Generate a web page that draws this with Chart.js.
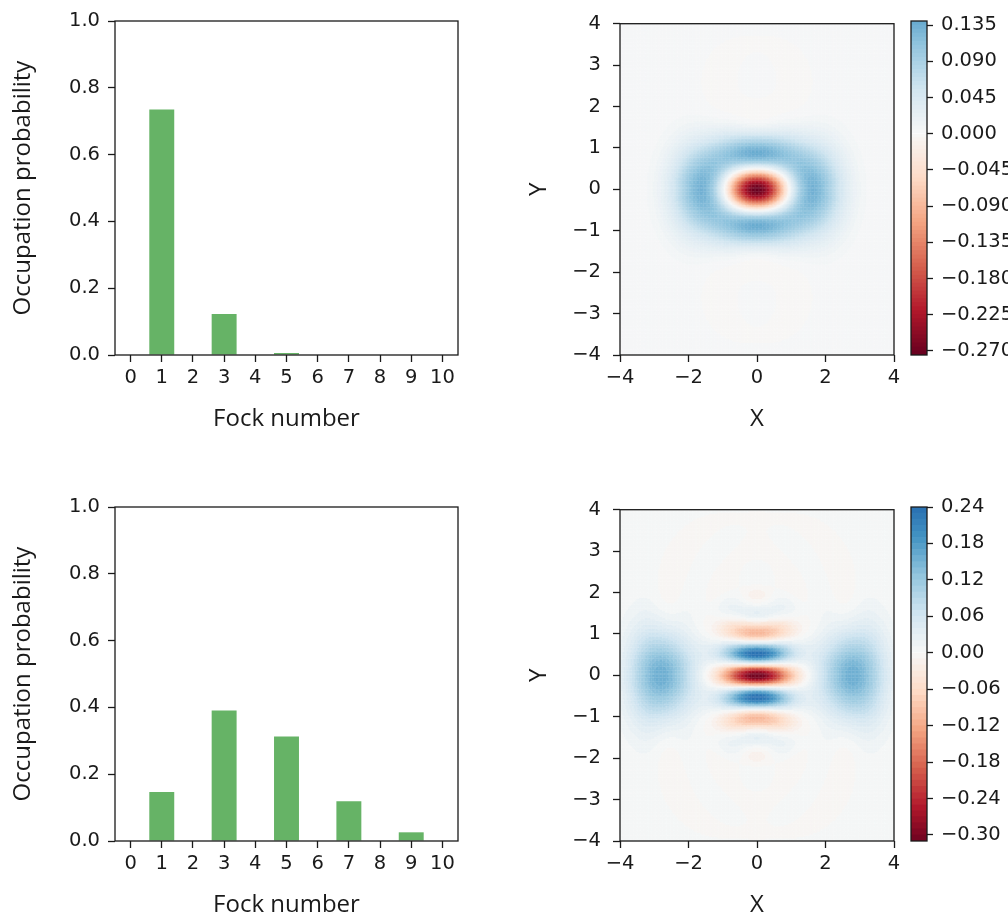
<!DOCTYPE html>
<html>
<head>
<meta charset="utf-8">
<script src="https://cdn.jsdelivr.net/npm/chart.js@4.4.1/dist/chart.umd.min.js"></script>
<style>
  html, body { margin: 0; padding: 0; background: #fff; overflow: hidden; width: 1008px; height: 918px; }
  canvas { position: absolute; }
</style>
</head>
<body>
<canvas id="barTop" width="480" height="440" style="left:0;top:0"></canvas>
<canvas id="wignerTop" width="410" height="440" style="left:500px;top:0"></canvas>
<canvas id="cbarTop" width="103" height="440" style="left:905px;top:0"></canvas>
<canvas id="barBottom" width="480" height="440" style="left:0;top:486px"></canvas>
<canvas id="wignerBottom" width="410" height="440" style="left:500px;top:486px"></canvas>
<canvas id="cbarBottom" width="103" height="440" style="left:905px;top:486px"></canvas>
<script>
// ---- data -------------------------------------------------------------
const fockLabels = ['0', '1', '2', '3', '4', '5', '6', '7', '8', '9', '10'];
const occupationTop = [0, 0.735, 0, 0.123, 0, 0.006, 0, 0, 0, 0, 0];
const occupationBottom = [0, 0.147, 0, 0.391, 0, 0.313, 0, 0.119, 0, 0.026, 0];
const probabilityTicks = [0, 0.2, 0.4, 0.6, 0.8, 1.0];
const phaseTicksX = [-4, -2, 0, 2, 4];
const phaseTicksY = [-4, -3, -2, -1, 0, 1, 2, 3, 4];
const colorbarTicksTop = [0.135, 0.09, 0.045, 0, -0.045, -0.09, -0.135, -0.18, -0.225, -0.27];
const colorbarTicksBottom = [0.24, 0.18, 0.12, 0.06, 0, -0.06, -0.12, -0.18, -0.24, -0.30];
const contourRangeTop = [-0.275, 0.14];
const contourStepTop = 0.005;
const contourRangeBottom = [-0.31, 0.24];
const contourStepBottom = 0.01;

// ---- styling ----------------------------------------------------------
const ink = '#1a1a1a';
const barGreen = '#66b366';
const tickFont = { family: 'DejaVu Sans', size: 19.5 };
const titleFont = { family: 'Open Sans', size: 24, lineHeight: 1 };
const gridCols = 200, gridRows = 245;
Chart.defaults.font.family = 'DejaVu Sans';

// matplotlib RdBu colour stops
const rdbuStops = [
  [103, 0, 31], [178, 24, 43], [214, 96, 77], [244, 165, 130], [253, 219, 199],
  [247, 247, 247], [209, 229, 240], [146, 197, 222], [67, 147, 195], [33, 102, 172], [5, 48, 97]
];
function rdbu(t) {
  t = Math.min(1, Math.max(0, t));
  const f = t * (rdbuStops.length - 1);
  const i = Math.min(rdbuStops.length - 2, Math.floor(f));
  const u = f - i, a = rdbuStops[i], b = rdbuStops[i + 1];
  const c = a.map((v, k) => Math.round(v + (b[k] - v) * u));
  return `rgb(${c[0]},${c[1]},${c[2]})`;
}

function minusFmt(v, d) {
  const s = Math.abs(v).toFixed(d);
  return v < -1e-12 ? '\u2212' + s : s;
}

// ---- Wigner function of a pure state with real Fock amplitudes ----------
function laguerre(n, a, x) {
  if (n === 0) return 1;
  let l0 = 1, l1 = 1 + a - x;
  for (let k = 1; k < n; k++) {
    const l2 = ((2 * k + 1 + a - x) * l1 - (k + a) * l0) / (k + 1);
    l0 = l1; l1 = l2;
  }
  return l1;
}
const factorial = [1];
for (let i = 1; i < 20; i++) factorial[i] = factorial[i - 1] * i;

function wignerAt(amps, x, p) {
  const r2 = x * x + p * p;
  const rho = Math.sqrt(2 * r2), theta = Math.atan2(p, x);
  let sum = 0;
  for (let m = 0; m < amps.length; m++) {
    if (!amps[m]) continue;
    for (let n = m; n < amps.length; n++) {
      if (!amps[n]) continue;
      const k = n - m;
      const re = Math.pow(rho, k) * Math.cos(k * theta);
      const term = amps[m] * amps[n] * (m % 2 ? -1 : 1) * re *
        Math.sqrt(factorial[m] / factorial[n]) * laguerre(m, k, 2 * r2);
      sum += (k === 0 ? 1 : 2) * term;
    }
  }
  return sum * Math.exp(-r2) / Math.PI;
}

// filled-contour style field: each cell takes the colour of its level band
function wignerField(occupation, range, step) {
  const amps = occupation.map(Math.sqrt);
  const pts = [], vals = [];
  const dx = 8 / gridCols, dy = 8 / gridRows;
  let wlim = 0;
  for (let j = 0; j < gridRows; j++) {
    const p = -4 + (j + 0.5) * dy;
    for (let i = 0; i < gridCols; i++) {
      const x = -4 + (i + 0.5) * dx;
      const w = wignerAt(amps, x, p);
      wlim = Math.max(wlim, Math.abs(w));
      pts.push({ x: x, y: p });
      vals.push(w);
    }
  }
  const nBands = Math.round((range[1] - range[0]) / step);
  const levels = [];
  for (let i = 0; i <= nBands; i++) levels.push(+(range[0] + i * step).toFixed(5));
  const bandColors = levels.slice(0, -1).map((lo, i) => rdbu(0.5 + (lo + levels[i + 1]) / 2 / (2 * wlim)));
  const colors = vals.map(w => {
    const b = Math.min(nBands - 1, Math.max(0, Math.floor((w - range[0]) / step)));
    return bandColors[b];
  });
  return { pts, colors, levels, bandColors };
}

// ---- shared chart pieces ----------------------------------------------
const frame = {
  id: 'frame',
  afterDatasetsDraw(chart) {
    const { ctx, chartArea: a } = chart;
    ctx.save();
    ctx.strokeStyle = ink;
    ctx.lineWidth = 1.3;
    ctx.strokeRect(a.left, a.top, a.right - a.left, a.bottom - a.top);
    ctx.restore();
  }
};
function tickGrid(len) {
  return { display: true, drawOnChartArea: false, drawTicks: true, tickLength: len || 7, tickWidth: 1.3, tickColor: ink };
}
const baseOptions = {
  responsive: false, animation: false, events: [],
  plugins: { legend: { display: false }, tooltip: { enabled: false } }
};

function barChart(id, values) {
  return new Chart(document.getElementById(id), {
    type: 'bar',
    data: {
      labels: fockLabels,
      datasets: [{ data: values, backgroundColor: barGreen, borderWidth: 0,
        barPercentage: 0.8, categoryPercentage: 1, inflateAmount: 0 }]
    },
    options: Object.assign({}, baseOptions, {
      layout: { padding: { top: 21, right: 22, left: 0, bottom: 0 } },
      scales: {
        x: {
          type: 'category', offset: true,
          grid: Object.assign(tickGrid(), { offset: false }),
          border: { display: false },
          ticks: { font: tickFont, color: ink, padding: 4, autoSkip: false, maxRotation: 0, minRotation: 0 },
          title: { display: true, text: 'Fock number', font: titleFont, color: ink, padding: { top: 0, bottom: 9 } },
          afterFit(s) { s.height = 85; }
        },
        y: {
          type: 'linear', min: 0, max: 1,
          grid: tickGrid(), border: { display: false },
          afterBuildTicks(s) { s.ticks = probabilityTicks.map(v => ({ value: v })); },
          ticks: { font: tickFont, color: ink, padding: 8, callback: v => v.toFixed(1) },
          title: { display: true, text: 'Occupation probability', font: titleFont, color: ink, padding: { top: 11, bottom: 0 } },
          afterFit(s) { s.width = 115; }
        }
      }
    }),
    plugins: [frame]
  });
}

function wignerChart(id, field) {
  return new Chart(document.getElementById(id), {
    type: 'scatter',
    data: {
      datasets: [{
        data: field.pts, pointStyle: 'rect', pointRadius: 1.2, pointHoverRadius: 1.2,
        pointBorderWidth: 0, pointBackgroundColor: field.colors, clip: 0, showLine: false
      }]
    },
    options: Object.assign({}, baseOptions, {
      parsing: false, normalized: true,
      layout: { padding: { top: 21, right: 16, left: 0, bottom: 0 } },
      scales: {
        x: {
          type: 'linear', min: -4, max: 4,
          grid: tickGrid(), border: { display: false },
          afterBuildTicks(s) { s.ticks = phaseTicksX.map(v => ({ value: v })); },
          ticks: { font: tickFont, color: ink, padding: 4, maxRotation: 0, autoSkip: false, callback: v => minusFmt(v, 0) },
          title: { display: true, text: 'X', font: titleFont, color: ink, padding: { top: 0, bottom: 9 } },
          afterFit(s) { s.height = 85; }
        },
        y: {
          type: 'linear', min: -4, max: 4,
          grid: tickGrid(), border: { display: false },
          afterBuildTicks(s) { s.ticks = phaseTicksY.map(v => ({ value: v })); },
          ticks: { font: tickFont, color: ink, padding: 12, autoSkip: false, callback: v => minusFmt(v, 0) },
          title: { display: true, text: 'Y', font: titleFont, color: ink, padding: { top: 27, bottom: 0 } },
          afterFit(s) { s.width = 120; }
        }
      }
    }),
    plugins: [frame]
  });
}

function colorbarChart(id, field, ticks, decimals) {
  const lv = field.levels;
  const bands = lv.slice(0, -1).map((lo, i) => ({
    data: [[lo, lv[i + 1]]], backgroundColor: field.bandColors[i], borderWidth: 0,
    grouped: false, barPercentage: 1, categoryPercentage: 1
  }));
  return new Chart(document.getElementById(id), {
    type: 'bar',
    data: { labels: ['W'], datasets: bands },
    options: Object.assign({}, baseOptions, {
      layout: { padding: { top: 21, right: 0, left: 6, bottom: 85 } },
      scales: {
        x: { type: 'category', display: false, offset: true },
        y: {
          type: 'linear', position: 'right', min: lv[0], max: lv[lv.length - 1],
          grid: tickGrid(6), border: { display: false },
          afterBuildTicks(s) { s.ticks = ticks.map(v => ({ value: v })); },
          ticks: { font: tickFont, color: ink, padding: 8, autoSkip: false, callback: v => minusFmt(v, decimals) },
          afterFit(s) { s.width = 81; }
        }
      }
    }),
    plugins: [frame]
  });
}

// ---- build the figure --------------------------------------------------
const fieldTop = wignerField(occupationTop, contourRangeTop, contourStepTop);
const fieldBottom = wignerField(occupationBottom, contourRangeBottom, contourStepBottom);

barChart('barTop', occupationTop);
wignerChart('wignerTop', fieldTop);
colorbarChart('cbarTop', fieldTop, colorbarTicksTop, 3);

barChart('barBottom', occupationBottom);
wignerChart('wignerBottom', fieldBottom);
colorbarChart('cbarBottom', fieldBottom, colorbarTicksBottom, 2);
</script>
</body>
</html>
